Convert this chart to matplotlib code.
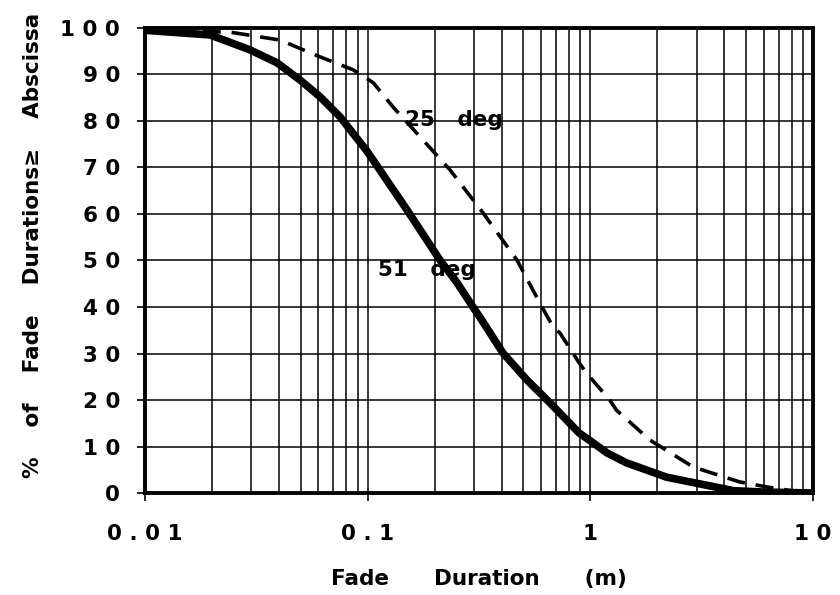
import matplotlib
matplotlib.use("Agg")
import matplotlib.pyplot as plt
from matplotlib.ticker import FixedLocator, LogLocator, NullFormatter

# Data
dur_51 = [0.01, 0.0196, 0.0296, 0.0392, 0.0497, 0.0611, 0.0751, 0.0993, 0.1057, 0.150,
          0.211, 0.252, 0.297, 0.319, 0.405, 0.519, 0.658, 0.89, 1.0, 1.19, 1.45, 2.2,
          3.3, 4.4, 6.0, 10.0]
pct_51 = [99.5, 98.5, 95.3, 92.5, 88.8, 85.2, 80.9, 73.5, 71.6, 60.9,
          50.1, 45.2, 40.0, 37.8, 30.1, 24.3, 19.4, 12.9, 11.2, 8.6, 6.5, 3.4,
          1.7, 0.5, 0.2, 0.0]
dur_25 = [0.01, 0.0241, 0.0404, 0.061, 0.086, 0.106, 0.130, 0.166, 0.234, 0.33, 0.468,
          0.592, 0.68, 0.73, 0.89, 0.96, 1.22, 1.31, 1.85, 2.89, 4.67, 6.2, 8.8, 10.0]
pct_25 = [99.5, 99.1, 97.4, 93.8, 91.0, 88.2, 83.0, 77.4, 69.5, 60.2, 50.1,
          40.9, 35.7, 34.4, 28.0, 25.8, 20.0, 17.8, 11.4, 5.6, 2.4, 1.3, 0.2, 0.0]
ytick_vals = [0, 10, 20, 30, 40, 50, 60, 70, 80, 90, 100]
ytick_labels = ["0", "1 0", "2 0", "3 0", "4 0", "5 0", "6 0", "7 0", "8 0", "9 0", "1 0 0"]
xtick_vals = [0.01, 0.1, 1, 10]
xtick_labels = ["0 . 0 1", "0 . 1", "1", "1 0"]

plt.rcParams['font.family'] = ['DejaVu Sans']
FS = 15.5

fig = plt.figure(figsize=(8.4, 5.95), dpi=100)
ax = fig.add_axes([0.1726, 0.1714, 0.7954, 0.7816])

ax.set_xscale('log')
ax.set_xlim(0.01, 10)
ax.set_ylim(0, 100)

ax.xaxis.set_major_locator(FixedLocator(xtick_vals))
ax.xaxis.set_minor_locator(LogLocator(base=10, subs=range(2, 10)))
ax.xaxis.set_minor_formatter(NullFormatter())
ax.set_xticklabels(xtick_labels)
ax.yaxis.set_major_locator(FixedLocator(ytick_vals))
ax.set_yticklabels(ytick_labels)

ax.grid(True, which='major', color='black', linewidth=1.1)
ax.grid(True, which='minor', axis='x', color='black', linewidth=1.1)
ax.set_axisbelow(True)

ax.plot(dur_51, pct_51, color='black', linewidth=5.5, solid_capstyle='round',
        solid_joinstyle='round', zorder=3)
ax.plot(dur_25, pct_25, color='black', linewidth=2.6, linestyle=(0, (5, 3)), zorder=3)

ax.text(0.147, 80.2, "25   deg", fontsize=FS, fontweight='bold', ha='left', va='center', zorder=4)
ax.text(0.111, 48, "51   deg", fontsize=FS, fontweight='bold', ha='left', va='center', zorder=4)

for s in ['left', 'bottom', 'top', 'right']:
    ax.spines[s].set_linewidth(2.8)

ax.tick_params(axis='both', which='major', direction='out', length=6, width=1.2,
               labelsize=FS, colors='black')
ax.tick_params(axis='x', which='minor', length=0)
for lbl in ax.get_xticklabels() + ax.get_yticklabels():
    lbl.set_fontweight('bold')
ax.tick_params(axis='x', pad=16)
ax.tick_params(axis='y', pad=12)

ax.set_xlabel("Fade      Duration      (m)", fontsize=FS, fontweight='bold', labelpad=18)
ax.set_ylabel("%    of    Fade    Durations\u2265    Abscissa", fontsize=FS, fontweight='bold')
ax.yaxis.set_label_coords(-0.152, 0.533)

fig.savefig("out.png", dpi=100)
